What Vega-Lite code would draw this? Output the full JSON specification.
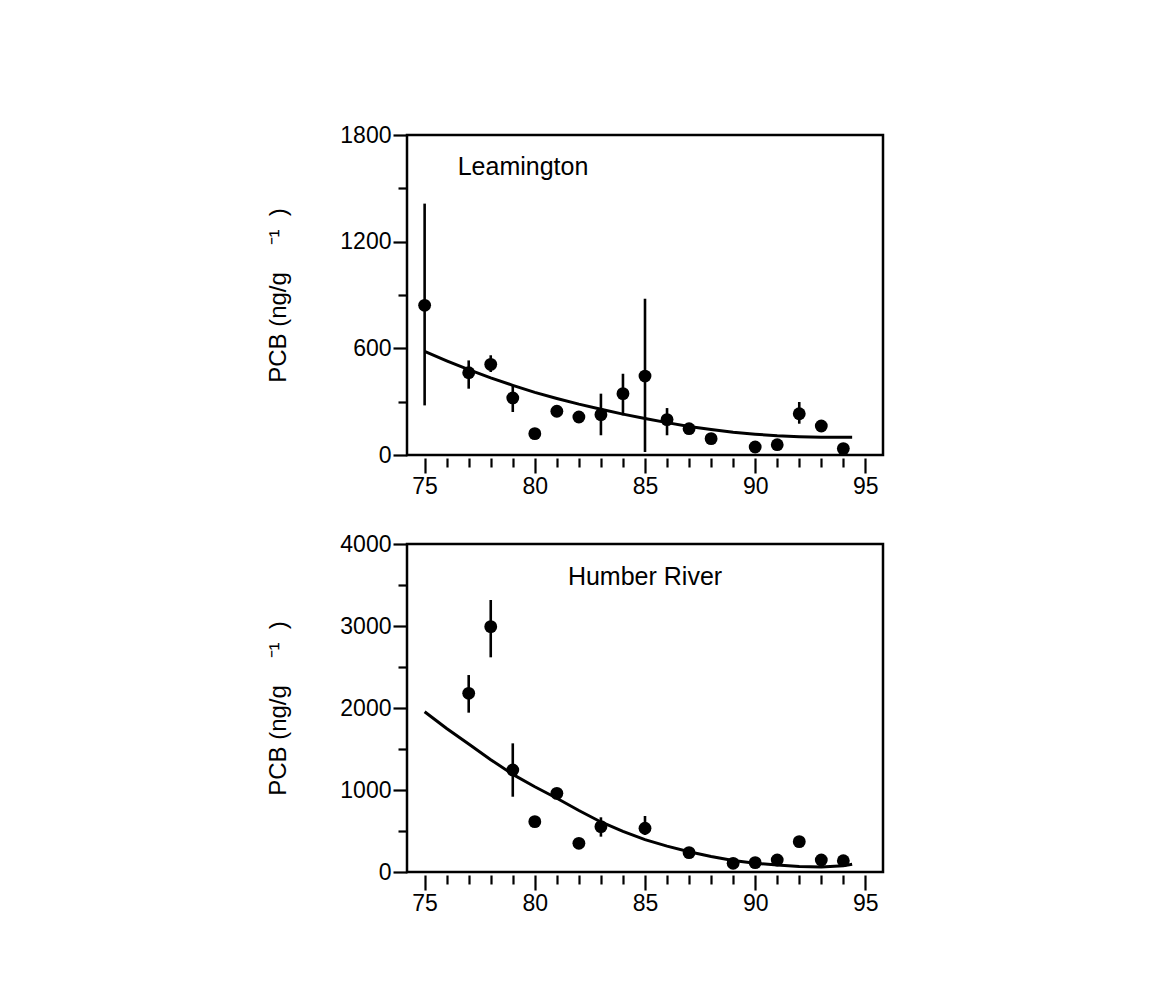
{
  "$schema": "https://vega.github.io/schema/vega-lite/v6.json",
  "background": "white",
  "padding": {"left": 265, "top": 122, "right": 5, "bottom": 5},
  "spacing": 31,
  "config": {
    "font": "Liberation Sans",
    "view": {"stroke": "black", "strokeWidth": 2.5},
    "axis": {
      "grid": false,
      "labelFont": "Liberation Sans",
      "labelFontSize": 23,
      "labelColor": "black",
      "tickColor": "black",
      "tickWidth": 2.2,
      "domain": false,
      "titleFont": "Liberation Sans",
      "titleFontSize": 24,
      "titleFontWeight": "normal",
      "titleColor": "black",
      "labelOverlap": false,
      "labelFlush": false,
      "tickCount": 60
    }
  },
  "datasets": {
    "leam": [
      {"year": 75, "pcb": 842, "lo": 279, "hi": 1414},
      {"year": 77, "pcb": 463, "lo": 373, "hi": 532},
      {"year": 78, "pcb": 510, "lo": 467, "hi": 561},
      {"year": 79, "pcb": 321, "lo": 242, "hi": 392},
      {"year": 80, "pcb": 120, "lo": null, "hi": null},
      {"year": 81, "pcb": 246, "lo": null, "hi": null},
      {"year": 82, "pcb": 214, "lo": null, "hi": null},
      {"year": 83, "pcb": 227, "lo": 111, "hi": 345},
      {"year": 84, "pcb": 345, "lo": 223, "hi": 457},
      {"year": 85, "pcb": 444, "lo": 17, "hi": 879},
      {"year": 86, "pcb": 199, "lo": 111, "hi": 264},
      {"year": 87, "pcb": 148, "lo": null, "hi": null},
      {"year": 88, "pcb": 92, "lo": null, "hi": null},
      {"year": 90, "pcb": 45, "lo": null, "hi": null},
      {"year": 91, "pcb": 58, "lo": null, "hi": null},
      {"year": 92, "pcb": 232, "lo": 176, "hi": 298},
      {"year": 93, "pcb": 163, "lo": null, "hi": null},
      {"year": 94, "pcb": 36, "lo": null, "hi": null}
    ],
    "leamFit": [
      {"year": 75, "pcb": 583}, {"year": 76, "pcb": 530}, {"year": 77, "pcb": 480},
      {"year": 78, "pcb": 434}, {"year": 79, "pcb": 392}, {"year": 80, "pcb": 352},
      {"year": 81, "pcb": 318}, {"year": 82, "pcb": 286}, {"year": 83, "pcb": 257},
      {"year": 84, "pcb": 230}, {"year": 85, "pcb": 205}, {"year": 86, "pcb": 182},
      {"year": 87, "pcb": 160}, {"year": 88, "pcb": 143}, {"year": 89, "pcb": 128},
      {"year": 90, "pcb": 117}, {"year": 91, "pcb": 108}, {"year": 92, "pcb": 103},
      {"year": 93, "pcb": 100}, {"year": 94, "pcb": 100}, {"year": 94.4, "pcb": 100}
    ],
    "humber": [
      {"year": 77, "pcb": 2179, "lo": 1943, "hi": 2402},
      {"year": 78, "pcb": 2992, "lo": 2618, "hi": 3317},
      {"year": 79, "pcb": 1244, "lo": 918, "hi": 1569},
      {"year": 80, "pcb": 614, "lo": null, "hi": null},
      {"year": 81, "pcb": 959, "lo": null, "hi": null},
      {"year": 82, "pcb": 350, "lo": null, "hi": null},
      {"year": 83, "pcb": 553, "lo": 431, "hi": 667},
      {"year": 85, "pcb": 533, "lo": 451, "hi": 683},
      {"year": 87, "pcb": 236, "lo": null, "hi": null},
      {"year": 89, "pcb": 106, "lo": null, "hi": null},
      {"year": 90, "pcb": 114, "lo": null, "hi": null},
      {"year": 91, "pcb": 146, "lo": null, "hi": null},
      {"year": 92, "pcb": 370, "lo": null, "hi": null},
      {"year": 93, "pcb": 146, "lo": null, "hi": null},
      {"year": 94, "pcb": 138, "lo": null, "hi": null}
    ],
    "humberFit": [
      {"year": 75, "pcb": 1955}, {"year": 76, "pcb": 1750}, {"year": 77, "pcb": 1560},
      {"year": 78, "pcb": 1370}, {"year": 79, "pcb": 1190}, {"year": 80, "pcb": 1040},
      {"year": 81, "pcb": 900}, {"year": 82, "pcb": 750}, {"year": 83, "pcb": 610},
      {"year": 84, "pcb": 495}, {"year": 85, "pcb": 395}, {"year": 86, "pcb": 315},
      {"year": 87, "pcb": 248}, {"year": 88, "pcb": 190}, {"year": 89, "pcb": 140},
      {"year": 90, "pcb": 108}, {"year": 91, "pcb": 85}, {"year": 92, "pcb": 68},
      {"year": 93, "pcb": 62}, {"year": 94, "pcb": 75}, {"year": 94.4, "pcb": 95}
    ]
  },
  "vconcat": [
    {
      "width": 476,
      "height": 320,
      "layer": [
        {
          "data": {"name": "leam"},
          "mark": {"type": "rule", "color": "black", "strokeWidth": 2.6},
          "encoding": {
            "x": {
              "field": "year", "type": "quantitative", "title": null,
              "scale": {"domain": [74.2, 95.8], "nice": false, "zero": false},
              "axis": {
                "values": [75,76,77,78,79,80,81,82,83,84,85,86,87,88,89,90,91,92,93,94,95],
                "tickCount": 60,
                "labelExpr": "datum.value % 5 === 0 ? datum.label : ''",
                "tickSize": {"condition": {"test": "datum.value % 5 === 0", "value": 15}, "value": 9},
                "offset": 3, "labelPadding": 2, "format": "d", "labelOverlap": false, "labelFlush": false
              }
            },
            "y": {
              "field": "lo", "type": "quantitative", "title": "PCB (ng/g\u00a0\u00a0\u00a0\u00a0⁻¹\u00a0\u00a0)",
              "scale": {"domain": [0, 1800], "nice": false},
              "axis": {
                "values": [0,300,600,900,1200,1500,1800],
                "tickCount": 60,
                "labelExpr": "datum.value % 600 === 0 ? datum.label : ''",
                "tickSize": {"condition": {"test": "datum.value % 600 === 0", "value": 14}, "value": 9},
                "labelPadding": 2, "format": "d", "titlePadding": 49, "labelOverlap": false
              }
            },
            "y2": {"field": "hi"}
          }
        },
        {
          "data": {"name": "leam"},
          "mark": {"type": "point", "filled": true, "size": 165, "color": "black", "opacity": 1},
          "encoding": {
            "x": {"field": "year", "type": "quantitative", "title": null},
            "y": {"field": "pcb", "type": "quantitative", "title": "PCB (ng/g\u00a0\u00a0\u00a0\u00a0⁻¹\u00a0\u00a0)"}
          }
        },
        {
          "data": {"name": "leamFit"},
          "mark": {"type": "line", "color": "black", "strokeWidth": 3},
          "encoding": {
            "x": {"field": "year", "type": "quantitative", "title": null},
            "y": {"field": "pcb", "type": "quantitative", "title": "PCB (ng/g\u00a0\u00a0\u00a0\u00a0⁻¹\u00a0\u00a0)"}
          }
        },
        {
          "data": {"values": [{"year": 76.5, "pcb": 1620, "label": "Leamington"}]},
          "mark": {"type": "text", "align": "left", "baseline": "middle", "fontSize": 25, "color": "black"},
          "encoding": {
            "x": {"field": "year", "type": "quantitative", "title": null},
            "y": {"field": "pcb", "type": "quantitative", "title": "PCB (ng/g\u00a0\u00a0\u00a0\u00a0⁻¹\u00a0\u00a0)"},
            "text": {"field": "label"}
          }
        }
      ]
    },
    {
      "width": 476,
      "height": 328,
      "layer": [
        {
          "data": {"name": "humber"},
          "mark": {"type": "rule", "color": "black", "strokeWidth": 2.6},
          "encoding": {
            "x": {
              "field": "year", "type": "quantitative", "title": null,
              "scale": {"domain": [74.2, 95.8], "nice": false, "zero": false},
              "axis": {
                "values": [75,76,77,78,79,80,81,82,83,84,85,86,87,88,89,90,91,92,93,94,95],
                "tickCount": 60,
                "labelExpr": "datum.value % 5 === 0 ? datum.label : ''",
                "tickSize": {"condition": {"test": "datum.value % 5 === 0", "value": 15}, "value": 9},
                "offset": 3, "labelPadding": 2, "format": "d", "labelOverlap": false, "labelFlush": false
              }
            },
            "y": {
              "field": "lo", "type": "quantitative", "title": "PCB (ng/g\u00a0\u00a0\u00a0\u00a0⁻¹\u00a0\u00a0)",
              "scale": {"domain": [0, 4000], "nice": false},
              "axis": {
                "values": [0,500,1000,1500,2000,2500,3000,3500,4000],
                "tickCount": 60,
                "labelExpr": "datum.value % 1000 === 0 ? datum.label : ''",
                "tickSize": {"condition": {"test": "datum.value % 1000 === 0", "value": 14}, "value": 9},
                "labelPadding": 2, "format": "d", "titlePadding": 49, "labelOverlap": false
              }
            },
            "y2": {"field": "hi"}
          }
        },
        {
          "data": {"name": "humber"},
          "mark": {"type": "point", "filled": true, "size": 165, "color": "black", "opacity": 1},
          "encoding": {
            "x": {"field": "year", "type": "quantitative", "title": null},
            "y": {"field": "pcb", "type": "quantitative", "title": "PCB (ng/g\u00a0\u00a0\u00a0\u00a0⁻¹\u00a0\u00a0)"}
          }
        },
        {
          "data": {"name": "humberFit"},
          "mark": {"type": "line", "color": "black", "strokeWidth": 3},
          "encoding": {
            "x": {"field": "year", "type": "quantitative", "title": null},
            "y": {"field": "pcb", "type": "quantitative", "title": "PCB (ng/g\u00a0\u00a0\u00a0\u00a0⁻¹\u00a0\u00a0)"}
          }
        },
        {
          "data": {"values": [{"year": 85, "pcb": 3600, "label": "Humber River"}]},
          "mark": {"type": "text", "align": "center", "baseline": "middle", "fontSize": 25, "color": "black"},
          "encoding": {
            "x": {"field": "year", "type": "quantitative", "title": null},
            "y": {"field": "pcb", "type": "quantitative", "title": "PCB (ng/g\u00a0\u00a0\u00a0\u00a0⁻¹\u00a0\u00a0)"},
            "text": {"field": "label"}
          }
        }
      ]
    }
  ]
}
